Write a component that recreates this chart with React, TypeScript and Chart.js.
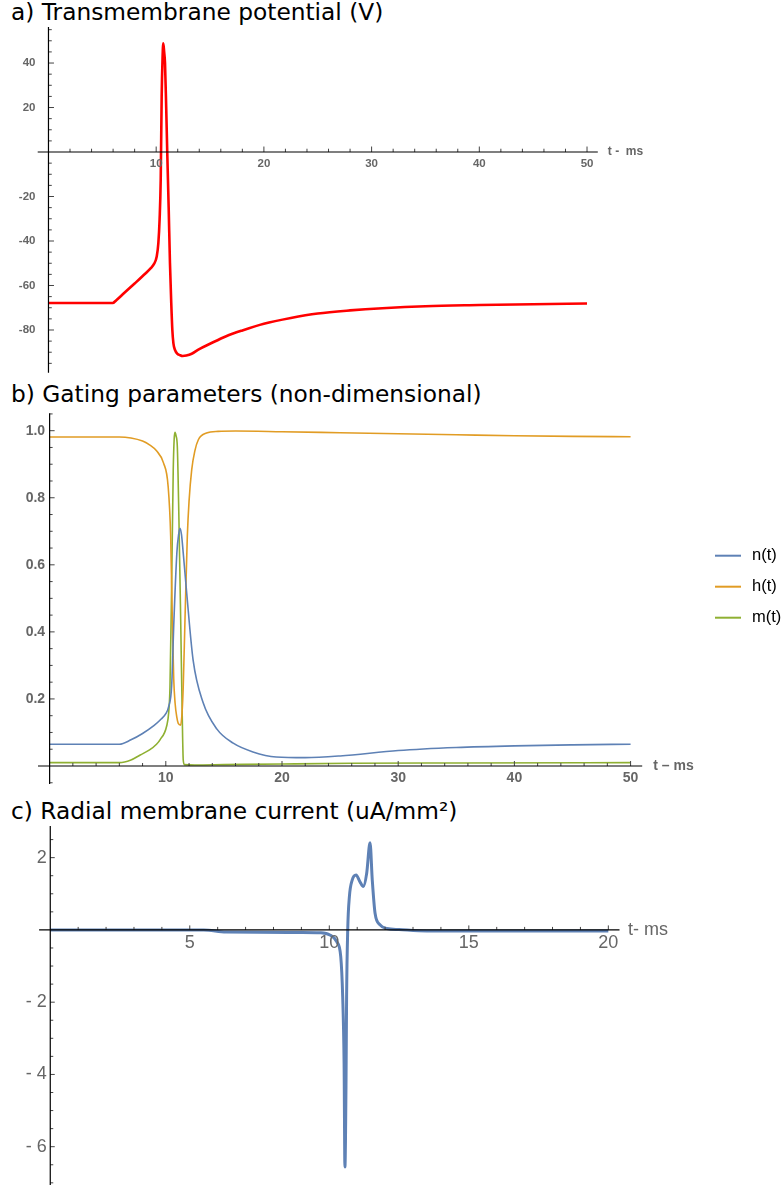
import React, { useEffect, useRef } from 'react';
import { Chart, registerables } from 'chart.js';

Chart.register(...registerables);

// ---------- Panel a: transmembrane potential ----------
const tA = [0, 5.95, 6.3, 7, 8, 9, 9.5, 9.8, 10.05, 10.2, 10.32, 10.42, 10.51, 10.59, 10.66, 10.74, 10.82, 10.93, 11.03, 11.16, 11.28, 11.4, 11.5, 11.6, 11.75, 11.95, 12.2, 12.46, 12.8, 13.3, 14, 15, 16.5, 18, 20, 22.5, 25, 28, 31, 35, 40, 45, 50];
const vA = [-67.9, -67.9, -66.6, -63.5, -59.1, -54.6, -52.2, -50.3, -47, -41, -30, -12.6, 24.9, 42, 48.9, 45, 39.9, 20, -0.6, -25, -50, -68, -80, -86, -89, -90.6, -91.3, -91.7, -91.5, -90.7, -88.6, -86.2, -82.8, -80.2, -77.2, -74.6, -72.6, -71.2, -70.2, -69.3, -68.8, -68.4, -68.1];
const aXTicks = [10, 20, 30, 40, 50];
const aXTickLabels = ['10', '20', '30', '40', '50'];
const aYTicks = [-80, -60, -40, -20, 20, 40];
const aYTickLabels = ['-80', '-60', '-40', '-20', '20', '40'];

// ---------- Panel b: gating parameters ----------
const tN = [0, 6.0, 7, 8, 9, 9.6, 10.0, 10.25, 10.5, 10.7, 10.95, 11.1, 11.22, 11.35, 11.5, 11.8, 12.35, 13.2, 14.4, 15.8, 17.5, 19.5, 22, 25, 30, 35, 40, 45, 50];
const nVals = [0.065, 0.065, 0.078, 0.097, 0.121, 0.14, 0.156, 0.178, 0.237, 0.436, 0.635, 0.69, 0.709, 0.69, 0.635, 0.515, 0.316, 0.19, 0.11, 0.068, 0.042, 0.027, 0.025, 0.03, 0.046, 0.055, 0.06, 0.063, 0.065];
const tH = [0, 6.0, 7, 8, 8.6, 9.2, 9.8, 10.2, 10.42, 10.56, 10.68, 10.8, 10.95, 11.07, 11.28, 11.4, 11.5, 11.65, 11.85, 12.0, 12.23, 12.5, 12.8, 13.5, 14.5, 16, 20, 25, 30, 35, 40, 45, 50];
const hVals = [0.981, 0.981, 0.978, 0.969, 0.958, 0.94, 0.904, 0.834, 0.684, 0.436, 0.26, 0.187, 0.145, 0.127, 0.122, 0.16, 0.237, 0.436, 0.684, 0.79, 0.884, 0.94, 0.973, 0.993, 0.998, 0.999, 0.997, 0.994, 0.991, 0.988, 0.985, 0.983, 0.982];
const tM = [0, 6.0, 7, 7.8, 8.6, 9.2, 9.5, 10.08, 10.25, 10.36, 10.5, 10.64, 10.72, 10.79, 10.88, 10.99, 11.13, 11.28, 11.42, 11.5, 11.6, 12.5, 15, 20, 26, 35, 50];
const mVals = [0.01, 0.01, 0.018, 0.033, 0.048, 0.065, 0.078, 0.12, 0.16, 0.237, 0.535, 0.884, 0.975, 0.995, 0.985, 0.953, 0.734, 0.436, 0.137, 0.018, 0.004, 0.003, 0.004, 0.006, 0.008, 0.009, 0.01];
const bSeriesLabels = ['n(t)', 'h(t)', 'm(t)'];
const bXTicks = [10, 20, 30, 40, 50];
const bXTickLabels = ['10', '20', '30', '40', '50'];
const bYTicks = [0.2, 0.4, 0.6, 0.8, 1.0];
const bYTickLabels = ['0.2', '0.4', '0.6', '0.8', '1.0'];

// ---------- Panel c: radial membrane current ----------
const tC = [0, 5.5, 6.3, 9, 9.67, 10.02, 10.27, 10.41, 10.48, 10.53, 10.56, 10.6, 10.62, 10.66, 10.72, 10.82, 10.96, 11.1, 11.22, 11.34, 11.46, 11.54, 11.64, 11.82, 12.06, 12.5, 13.5, 20];
const iC = [0, 0, -0.06, -0.07, -0.08, -0.14, -0.33, -0.74, -1.85, -3.69, -6.56, -4.16, -1.85, 0, 0.92, 1.38, 1.52, 1.33, 1.2, 1.57, 2.41, 1.38, 0.46, 0.14, 0.04, 0.01, -0.03, -0.03];
const cXTicks = [5, 10, 15, 20];
const cXTickLabels = ['5', '10', '15', '20'];
const cYTicks = [-6, -4, -2, 2];
const cYTickLabels = ['- 6', '- 4', '- 2', '2'];

const BLUE = '#5E81B5';
const ORANGE = '#E19C24';
const GREEN = '#8FB032';

const axesPlugin = {
  id: 'mmaAxes',
  afterDatasetsDraw(chart: any, _args: any, o: any) {
    const { ctx, chartArea: ca, scales } = chart;
    const xs = scales.x;
    const ys = scales.y;
    const x0 = xs.getPixelForValue(0);
    const y0 = ys.getPixelForValue(0);
    ctx.save();
    ctx.strokeStyle = o.tickColor;
    ctx.lineWidth = 1;
    ctx.beginPath();
    const near = (v: number, list: number[]) => list.some((m) => Math.abs(m - v) < 1e-6);
    for (let k = Math.ceil(xs.min / o.xMinor); k * o.xMinor <= xs.max + 1e-9; k++) {
      const v = k * o.xMinor;
      if (Math.abs(v) < 1e-9) continue;
      const len = near(v, o.xTicks) ? o.majorLen : o.minorLen;
      const px = xs.getPixelForValue(v);
      ctx.moveTo(px, y0);
      ctx.lineTo(px, y0 - len);
    }
    for (let k = Math.ceil(ys.min / o.yMinor); k * o.yMinor <= ys.max + 1e-9; k++) {
      const v = k * o.yMinor;
      if (Math.abs(v) < 1e-9) continue;
      const len = near(v, o.yTicks) ? o.majorLen : o.minorLen;
      const py = ys.getPixelForValue(v);
      ctx.moveTo(x0, py);
      ctx.lineTo(x0 + len, py);
    }
    ctx.stroke();
    ctx.strokeStyle = o.axisColor;
    ctx.lineWidth = o.axisWidth;
    ctx.beginPath();
    ctx.moveTo(ca.left, y0);
    ctx.lineTo(ca.right, y0);
    ctx.moveTo(x0, ca.top);
    ctx.lineTo(x0, ca.bottom);
    ctx.stroke();
    ctx.fillStyle = o.labelColor;
    ctx.font = o.font;
    ctx.textAlign = 'center';
    ctx.textBaseline = 'top';
    o.xTicks.forEach((v: number, i: number) => {
      ctx.fillText(o.xTickLabels[i], xs.getPixelForValue(v), y0 + o.xLabelGap);
    });
    ctx.textAlign = 'right';
    ctx.textBaseline = 'middle';
    o.yTicks.forEach((v: number, i: number) => {
      ctx.fillText(o.yTickLabels[i], x0 - o.yLabelGap, ys.getPixelForValue(v));
    });
    ctx.textAlign = 'left';
    ctx.font = o.axisLabelFont;
    ctx.fillText(o.axisLabel, ca.right + o.axisLabelGap, y0);
    ctx.restore();
  },
};

const legendPlugin = {
  id: 'mmaLegend',
  afterDraw(chart: any, _args: any, o: any) {
    if (!o || !o.show) return;
    const { ctx } = chart;
    ctx.save();
    chart.data.datasets.forEach((ds: any, i: number) => {
      const y = o.y + i * o.spacing;
      ctx.strokeStyle = ds.borderColor;
      ctx.lineWidth = 2;
      ctx.beginPath();
      ctx.moveTo(o.x, y);
      ctx.lineTo(o.x + o.lineLen, y);
      ctx.stroke();
      ctx.fillStyle = '#000';
      ctx.font = o.font;
      ctx.textAlign = 'left';
      ctx.textBaseline = 'middle';
      ctx.fillText(ds.label, o.x + o.lineLen + o.gap, y);
    });
    ctx.restore();
  },
};

const pts = (xs: number[], ys: number[]) => xs.map((x, i) => ({ x, y: ys[i] }));

function line(label: string, xs: number[], ys: number[], color: string, width: number) {
  return {
    label,
    data: pts(xs, ys),
    borderColor: color,
    backgroundColor: color,
    borderWidth: width,
    pointRadius: 0,
    fill: false,
    cubicInterpolationMode: 'monotone',
  };
}

function baseOptions(padding: any, xr: number[], yr: number[], axes: any, legend: any) {
  return {
    animation: false,
    responsive: false,
    maintainAspectRatio: false,
    layout: { padding },
    scales: {
      x: { type: 'linear', min: xr[0], max: xr[1], display: false },
      y: { type: 'linear', min: yr[0], max: yr[1], display: false },
    },
    plugins: {
      legend: { display: false },
      tooltip: { enabled: false },
      mmaAxes: axes,
      mmaLegend: legend,
    },
  };
}

const configA = () => ({
  type: 'line',
  data: { datasets: [line('V(t)', tA, vA, '#FF0000', 2.6)] },
  options: baseOptions(
    { left: 37.7, right: 184.2, top: 3, bottom: 7.3 },
    [-1, 51],
    [-99.2, 56.2],
    {
      xTicks: aXTicks, xTickLabels: aXTickLabels, yTicks: aYTicks, yTickLabels: aYTickLabels,
      xMinor: 2, yMinor: 5, majorLen: 5.5, minorLen: 3.3,
      tickColor: '#444', axisColor: '#000', axisWidth: 1.2,
      labelColor: '#666', font: 'bold 11.5px "Liberation Sans"',
      xLabelGap: 6.5, yLabelGap: 13,
      axisLabel: 't -  ms', axisLabelFont: 'bold 12px "Liberation Sans"', axisLabelGap: 10,
    },
    { show: false },
  ),
  plugins: [axesPlugin, legendPlugin],
});

const configB = () => ({
  type: 'line',
  data: {
    datasets: [
      line(bSeriesLabels[0], tN, nVals, BLUE, 1.6),
      line(bSeriesLabels[1], tH, hVals, ORANGE, 1.6),
      line(bSeriesLabels[2], tM, mVals, GREEN, 1.6),
    ],
  },
  options: baseOptions(
    { left: 38, right: 139.8, top: 3.3, bottom: 6 },
    [-1, 51],
    [-0.0537, 1.0519],
    {
      xTicks: bXTicks, xTickLabels: bXTickLabels, yTicks: bYTicks, yTickLabels: bYTickLabels,
      xMinor: 2, yMinor: 0.05, majorLen: 5, minorLen: 3,
      tickColor: '#444', axisColor: '#000', axisWidth: 1.2,
      labelColor: '#666', font: 'bold 14px "Liberation Sans"',
      xLabelGap: 5.5, yLabelGap: 4.5,
      axisLabel: 't – ms', axisLabelFont: 'bold 14px "Liberation Sans"', axisLabelGap: 11,
    },
    { show: true, x: 715, y: 145.7, spacing: 31, lineLen: 26, gap: 11, font: '16.5px "Liberation Sans"' },
  ),
  plugins: [axesPlugin, legendPlugin],
});

const configC = () => ({
  type: 'line',
  data: { datasets: [line('I(t)', tC, iC, BLUE, 3)] },
  options: baseOptions(
    { left: 39.1, right: 162.5, top: 4, bottom: 3 },
    [-0.4, 20.4],
    [-7.06, 2.876],
    {
      xTicks: cXTicks, xTickLabels: cXTickLabels, yTicks: cYTicks, yTickLabels: cYTickLabels,
      xMinor: 1, yMinor: 0.5, majorLen: 4.5, minorLen: 3,
      tickColor: '#444', axisColor: '#000', axisWidth: 1.2,
      labelColor: '#666', font: '18px "Liberation Sans"',
      xLabelGap: 4.5, yLabelGap: 3.5,
      axisLabel: 't- ms', axisLabelFont: '18px "Liberation Sans"', axisLabelGap: 8.5,
    },
    { show: false },
  ),
  plugins: [axesPlugin, legendPlugin],
});

function Panel({ top, height, build }: { top: number; height: number; build: () => any }) {
  const ref = useRef<HTMLCanvasElement | null>(null);
  useEffect(() => {
    if (!ref.current) return;
    const chart = new Chart(ref.current, build());
    return () => chart.destroy();
  }, []);
  return (
    <canvas
      ref={ref}
      width={782}
      height={height}
      style={{ position: 'absolute', left: 0, top, width: 782, height }}
    />
  );
}

const titleStyle: React.CSSProperties = {
  position: 'absolute',
  left: 11,
  fontFamily: '"DejaVu Sans", sans-serif',
  fontSize: 23.3,
  lineHeight: '23px',
  whiteSpace: 'nowrap',
  color: '#000',
};

export default function App() {
  return (
    <div style={{ position: 'absolute', left: 0, top: 0, width: 782, height: 1188, overflow: 'hidden' }}>
      <div style={{ ...titleStyle, top: 0 }}>a) Transmembrane potential (V)</div>
      <div style={{ ...titleStyle, top: 382 }}>b) Gating parameters (non-dimensional)</div>
      <div style={{ ...titleStyle, top: 799 }}>c) Radial membrane current (uA/mm²)</div>
      <Panel top={24} height={356} build={configA} />
      <Panel top={410} height={380} build={configB} />
      <Panel top={822} height={366} build={configC} />
    </div>
  );
}
